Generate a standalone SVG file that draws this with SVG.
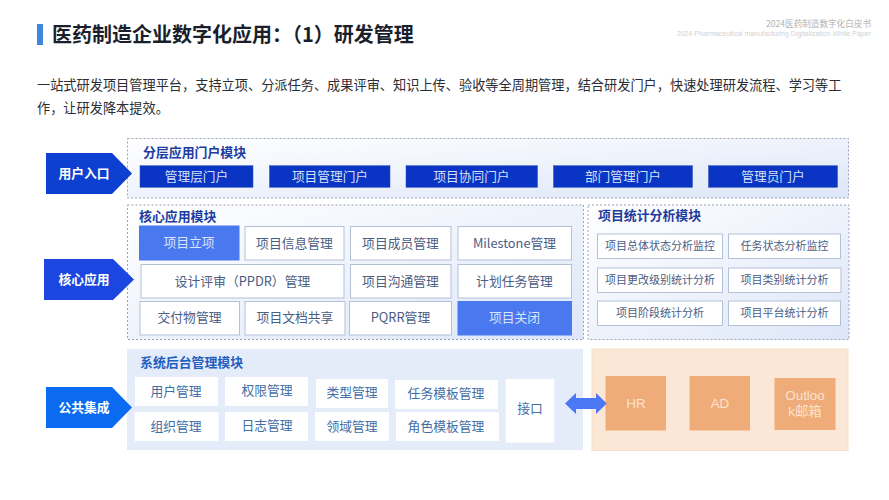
<svg xmlns="http://www.w3.org/2000/svg" width="889" height="500" viewBox="0 0 889 500">
<style>
text{font-family:"Noto Sans CJK SC","Liberation Sans",sans-serif;text-anchor:middle}
.title{font-size:20px;font-weight:700;fill:#1a1f2b;text-anchor:start}
.body{font-size:13.2px;fill:#2a2d35;text-anchor:start}
.h1{font-size:8.6px;fill:#b4b4b4;text-anchor:end}
.h2{font-size:7px;fill:#d2d2d2;text-anchor:end;font-family:"Liberation Sans",sans-serif}
.panel{stroke:#8f9bb0;stroke-width:.9;stroke-dasharray:2 2}
.mod{font-size:12.9px;font-weight:700;fill:#1d3c9e;text-anchor:start}
.side{font-size:12.8px;font-weight:700;fill:#fff}
.portal rect{fill:#0a34c4;stroke:#2c55b0;stroke-width:.5}
.portal text{font-size:12.7px;fill:#d5e0f5}
.cell rect{fill:#fff;stroke:#b3c1d8;stroke-width:1}
.cell text{font-size:12.8px;fill:#4a5d85}
.hot rect{fill:#4a78ee;stroke:#4a78ee}
.hot text{fill:#d9e4fb}
.stat rect{fill:#fff;stroke:#b3c1d8;stroke-width:1}
.stat text{font-size:11px;fill:#4a5d85}
.back rect{fill:#fff}
.back text{font-size:12.8px;fill:#3f6ea6}
.ext rect{fill:#efab78}
.ext text{font-size:13.4px;fill:#fbe3d0;font-family:"Liberation Sans","Noto Sans CJK SC",sans-serif}
</style>
<defs>
<linearGradient id="g" x1="0" y1="0" x2="1" y2="1"><stop offset="0" stop-color="#fff"/><stop offset="1" stop-color="#dde6f8"/></linearGradient>
</defs>
<rect width="889" height="500" fill="#fff"/>
<g id="header">
<rect x="37" y="24" width="6" height="21" fill="#3f86e0"/>
<text class="title" x="52" y="41.500">医药制造企业数字化应用&#xFF1A;&#xFF08;1&#xFF09;研发管理</text>
<text class="h1" x="871" y="27">2024医药制造数字化白皮书</text>
<text class="h2" x="871" y="36">2024  Pharmaceutical manufacturing Digitalization White Paper</text>
<text class="body" x="37" y="90">一站式研发项目管理平台&#xFF0C;支持立项、分派任务、成果评审、知识上传、验收等全周期管理&#xFF0C;结合研发门户&#xFF0C;快速处理研发流程、学习等工</text>
<text class="body" x="37" y="113">作&#xFF0C;让研发降本提效。</text>
</g>
<g id="panels">
<rect class="panel" x="127.500" y="138.500" width="721" height="59.500" fill="url(#g)"/>
<rect class="panel" x="127.500" y="205" width="456" height="134.500" fill="url(#g)"/>
<rect class="panel" x="588" y="205" width="261" height="134.500" fill="url(#g)"/>
<rect x="127" y="349" width="456" height="101" fill="#e4ebf9"/>
<rect x="592" y="349" width="256" height="101.500" fill="#fce6d6" stroke="#f6e0c2" stroke-width="1"/>
<text class="mod" x="143" y="156.500">分层应用门户模块</text>
<text class="mod" x="139" y="220.500">核心应用模块</text>
<text class="mod" x="598" y="220">项目统计分析模块</text>
<text class="mod" x="140" y="367" style="fill:#1f5fc0">系统后台管理模块</text>
</g>
<g id="side-user"><polygon points="46,153 112,153 132,173.500 112,194 46,194" fill="#0d3fd0"/><text class="side" x="84" y="178">用户入口</text></g>
<g id="side-core"><polygon points="44,259 113,259 134,279.500 113,300 44,300" fill="#1b47e0"/><text class="side" x="84" y="284">核心应用</text></g>
<g id="side-public"><polygon points="46,387 112,387 132,407.500 112,428 46,428" fill="#0a6bf0"/><text class="side" x="84" y="411.500">公共集成</text></g>
<g id="portal-1" class="portal"><rect x="140" y="165.700" width="113" height="21.600"/><text x="196.500" y="181">管理层门户</text></g>
<g id="portal-2" class="portal"><rect x="269.500" y="165.700" width="120.500" height="21.600"/><text x="330" y="181">项目管理门户</text></g>
<g id="portal-3" class="portal"><rect x="406" y="165.700" width="131.500" height="21.600"/><text x="471.500" y="181">项目协同门户</text></g>
<g id="portal-4" class="portal"><rect x="553.500" y="165.700" width="139" height="21.600"/><text x="623" y="181">部门管理门户</text></g>
<g id="portal-5" class="portal"><rect x="708.500" y="165.700" width="129" height="21.600"/><text x="773" y="181">管理员门户</text></g>
<g id="core-1" class="cell hot"><rect x="139.500" y="226" width="99.500" height="34"/><text x="189" y="247">项目立项</text></g>
<g id="core-2" class="cell"><rect x="245" y="226.500" width="99" height="33.500"/><text x="294.500" y="247.500">项目信息管理</text></g>
<g id="core-3" class="cell"><rect x="350.500" y="226.500" width="100.500" height="33.500"/><text x="400.500" y="247.500">项目成员管理</text></g>
<g id="core-4" class="cell"><rect x="458" y="226.500" width="113.500" height="33.500"/><text x="514.500" y="247.500">Milestone管理</text></g>
<g id="core-5" class="cell"><rect x="141" y="264.500" width="203" height="33.500"/><text x="242.500" y="285.500">设计评审&#xFF08;PPDR&#xFF09;管理</text></g>
<g id="core-6" class="cell"><rect x="350.500" y="264.500" width="100.500" height="33.500"/><text x="400.500" y="285.500">项目沟通管理</text></g>
<g id="core-7" class="cell"><rect x="458" y="264.500" width="113.500" height="33.500"/><text x="514.500" y="285.500">计划任务管理</text></g>
<g id="core-8" class="cell"><rect x="140" y="301.500" width="99.500" height="33.500"/><text x="189.500" y="322">交付物管理</text></g>
<g id="core-9" class="cell"><rect x="245" y="301.500" width="100" height="33.500"/><text x="295" y="322">项目文档共享</text></g>
<g id="core-10" class="cell"><rect x="349.500" y="301.500" width="102" height="33.500"/><text x="400.500" y="322">PQRR管理</text></g>
<g id="core-11" class="cell hot"><rect x="458" y="301.500" width="113.500" height="33.500"/><text x="514.500" y="322">项目关闭</text></g>
<g id="stat-1" class="stat"><rect x="597.500" y="234" width="125" height="24.500"/><text x="660" y="250">项目总体状态分析监控</text></g>
<g id="stat-2" class="stat"><rect x="728.500" y="234" width="112" height="24.500"/><text x="784.500" y="250">任务状态分析监控</text></g>
<g id="stat-3" class="stat"><rect x="597.500" y="268" width="125" height="24.500"/><text x="660" y="284">项目更改级别统计分析</text></g>
<g id="stat-4" class="stat"><rect x="728.500" y="268" width="112.500" height="24.500"/><text x="784.500" y="284">项目类别统计分析</text></g>
<g id="stat-5" class="stat"><rect x="597.500" y="301" width="125" height="24.500"/><text x="660" y="317">项目阶段统计分析</text></g>
<g id="stat-6" class="stat"><rect x="728.500" y="301" width="112" height="24.500"/><text x="784.500" y="317">项目平台统计分析</text></g>
<g id="back-1" class="back"><rect x="135" y="377" width="83" height="29"/><text x="176" y="396">用户管理</text></g>
<g id="back-2" class="back"><rect x="225" y="377" width="83" height="29"/><text x="267" y="395">权限管理</text></g>
<g id="back-3" class="back"><rect x="316" y="379" width="72" height="29"/><text x="352" y="397">类型管理</text></g>
<g id="back-4" class="back"><rect x="395" y="380" width="103" height="29"/><text x="446" y="398">任务模板管理</text></g>
<g id="back-5" class="back"><rect x="134.500" y="412" width="84" height="29"/><text x="176" y="431">组织管理</text></g>
<g id="back-6" class="back"><rect x="225" y="412" width="83" height="29"/><text x="267" y="430">日志管理</text></g>
<g id="back-7" class="back"><rect x="315" y="412" width="74" height="29"/><text x="352" y="431">领域管理</text></g>
<g id="back-8" class="back"><rect x="396" y="412" width="103" height="29"/><text x="446" y="431">角色模板管理</text></g>
<g id="back-9" class="back"><rect x="505.700" y="379" width="48.600" height="63.500"/><text x="530" y="413">接口</text></g>
<g id="ext-hr" class="ext"><rect x="605.500" y="376" width="60.500" height="54.500"/><text x="636" y="407.500">HR</text></g>
<g id="ext-ad" class="ext"><rect x="689.500" y="376" width="60.500" height="54.500"/><text x="720" y="407.500">AD</text></g>
<g id="ext-outlook" class="ext"><rect x="774.500" y="378" width="61" height="52"/><text x="805" y="400">Outloo</text><text x="805" y="416">k邮箱</text></g>
<g id="connectors"><polygon points="565,403.500 576,393 576,398 596,398 596,393 606.700,403.500 596,414 596,409 576,409 576,414" fill="#4a78f5"/></g>
</svg>
